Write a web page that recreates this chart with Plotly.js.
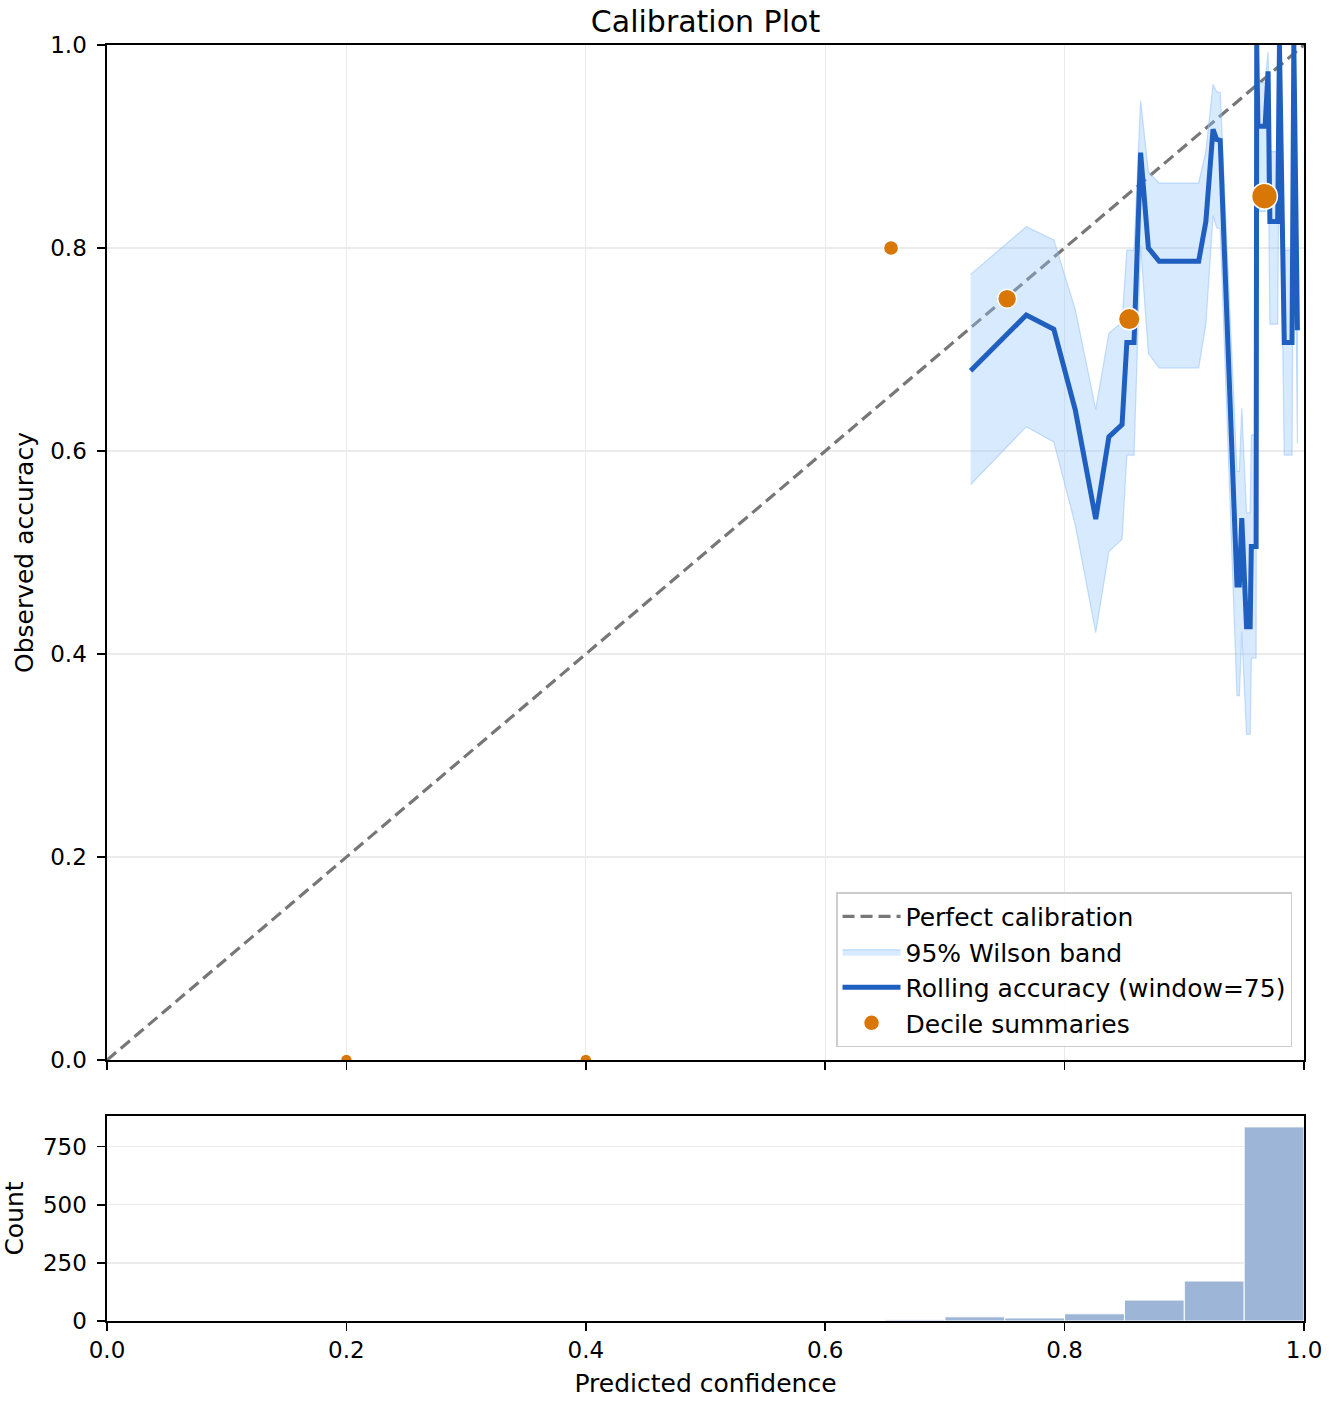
<!DOCTYPE html>
<html>
<head>
<meta charset="utf-8">
<script src="https://cdn.plot.ly/plotly-3.0.1.min.js"></script>
<style>
  body { margin: 0; background: #fff; }
  #myDiv { width: 1332px; height: 1404px; }
</style>
</head>
<body>
<div id="myDiv"></div>
<script>
// rolling accuracy (window=75)
var rollX = [0.7215, 0.768, 0.791, 0.809, 0.826, 0.837, 0.848, 0.852, 0.858, 0.8635,
             0.870, 0.879, 0.912, 0.918, 0.924, 0.927, 0.930, 0.944, 0.946, 0.948,
             0.952, 0.955, 0.956, 0.960, 0.9605, 0.9615, 0.9675, 0.970, 0.9715, 0.978,
             0.9795, 0.9835, 0.990, 0.9915, 0.9945];
var rollAcc = [0.679, 0.734, 0.720, 0.640, 0.533, 0.614, 0.626, 0.707, 0.707, 0.894,
               0.800, 0.787, 0.787, 0.826, 0.917, 0.907, 0.906, 0.468, 0.468, 0.534,
               0.427, 0.427, 0.506, 0.506, 1.000, 0.920, 0.920, 0.974, 0.826, 0.826,
               1.000, 0.707, 0.707, 1.000, 0.719];
var bandLow = [0.567, 0.624, 0.609, 0.527, 0.421, 0.501, 0.513, 0.596, 0.596, 0.803,
               0.696, 0.682, 0.682, 0.725, 0.832, 0.820, 0.819, 0.359, 0.359, 0.422,
               0.321, 0.321, 0.396, 0.396, 0.951, 0.836, 0.836, 0.909, 0.725, 0.725,
               0.951, 0.596, 0.596, 0.951, 0.608];
var bandHigh = [0.774, 0.821, 0.808, 0.739, 0.641, 0.716, 0.727, 0.798, 0.798, 0.945,
                0.875, 0.864, 0.864, 0.895, 0.961, 0.954, 0.953, 0.580, 0.580, 0.642,
                0.539, 0.539, 0.616, 0.616, 1.000, 0.963, 0.963, 0.993, 0.895, 0.895,
                1.000, 0.798, 0.798, 1.000, 0.808];

// decile summaries
var decileX = [0.200, 0.400, 0.655, 0.752, 0.854, 0.967];
var decileAcc = [0.000, 0.000, 0.800, 0.750, 0.730, 0.851];
var decileCount = [1, 1, 5, 32, 121, 1008];

// histogram of predicted confidence, bins of 0.05
var binStart = [0.65, 0.70, 0.75, 0.80, 0.85, 0.90, 0.95];
var binCount = [5, 18, 13, 31, 90, 172, 835];
var binWidth = 0.05;

var ticks01 = [0, 0.2, 0.4, 0.6, 0.8, 1.0];
var countTicks = [0, 250, 500, 750];

function Draw() {
  var font = 'DejaVu Sans, Liberation Sans, sans-serif';

  var decileSize = decileCount.map(function (n) { return 12 + 4.6 * Math.log10(n); });
  var binCenter = binStart.map(function (b) { return b + binWidth / 2; });

  // closed polygon for the band: upper edge forward, lower edge back
  var bandX = rollX.concat(rollX.slice().reverse());
  var bandY = bandHigh.concat(bandLow.slice().reverse());

  var diag = {
    x: [0, 1], y: [0, 1],
    name: 'Perfect calibration',
    type: 'scatter', mode: 'lines',
    line: { color: '#777777', width: 3.2, dash: '12px,6px' },
    xaxis: 'x', yaxis: 'y'
  };

  var band = {
    x: bandX, y: bandY,
    name: '95% Wilson band',
    type: 'scatter', mode: 'lines',
    fill: 'toself',
    fillcolor: 'rgba(147,197,253,0.36)',
    line: { color: 'rgba(150,195,250,0.55)', width: 1.2 },
    hoverinfo: 'skip',
    xaxis: 'x', yaxis: 'y'
  };

  var rolling = {
    x: rollX, y: rollAcc,
    name: 'Rolling accuracy (window=75)',
    type: 'scatter', mode: 'lines',
    line: { color: '#1f5fc0', width: 5 },
    xaxis: 'x', yaxis: 'y'
  };

  var deciles = {
    x: decileX, y: decileAcc,
    name: 'Decile summaries',
    type: 'scatter', mode: 'markers',
    marker: { color: '#d97706', opacity: 1, size: decileSize,
              line: { color: '#ffffff', width: 1.5 } },
    xaxis: 'x', yaxis: 'y'
  };

  var hist = {
    x: binCenter, y: binCount,
    width: binCount.map(function () { return binWidth; }),
    type: 'bar',
    showlegend: false,
    marker: { color: '#9db5d6', line: { color: '#ffffff', width: 1 } },
    xaxis: 'x2', yaxis: 'y2'
  };

  var axisBase = {
    showline: true, linecolor: '#000000', linewidth: 1.6, mirror: true,
    ticks: 'outside', ticklen: 8, tickwidth: 1.5, tickcolor: '#000000',
    ticklabelstandoff: 6,
    zeroline: false,
    gridcolor: '#ebebeb', gridwidth: 1.4,
    tickfont: { family: font, size: 23, color: '#000000' }
  };

  function ax(extra) {
    var o = JSON.parse(JSON.stringify(axisBase));
    for (var k in extra) o[k] = extra[k];
    return o;
  }

  var layout = {
    width: 1332,
    height: 1404,
    margin: { l: 107, r: 28, t: 45, b: 83, pad: 0 },
    paper_bgcolor: '#ffffff',
    plot_bgcolor: '#ffffff',
    font: { family: font, color: '#000000' },
    title: {
      text: 'Calibration Plot',
      font: { family: font, size: 30, color: '#000000' },
      x: 0.5, xref: 'paper', xanchor: 'center',
      y: 0.985, yref: 'container', yanchor: 'middle'
    },
    xaxis: ax({ domain: [0, 1], range: [0, 1], anchor: 'y', tickvals: ticks01,
                showticklabels: false, showgrid: true }),
    yaxis: ax({ domain: [0.2045, 1], range: [0, 1], anchor: 'x', tickvals: ticks01,
                tickformat: '.1f', showgrid: true,
                title: { text: 'Observed accuracy', font: { family: font, size: 25 }, standoff: 9 } }),
    xaxis2: ax({ domain: [0, 1], range: [0, 1], anchor: 'y2', tickvals: ticks01,
                 tickformat: '.1f', showgrid: false, ticklabelstandoff: 0,
                 title: { text: 'Predicted confidence', font: { family: font, size: 25 }, standoff: 12 } }),
    yaxis2: ax({ domain: [0, 0.1607], range: [0, 882], anchor: 'x2', tickvals: countTicks,
                 showgrid: true,
                 title: { text: 'Count', font: { family: font, size: 25 }, standoff: 12 } }),
    bargap: 0,
    legend: {
      x: 0.990, xanchor: 'right', xref: 'paper',
      y: 0.2147, yanchor: 'bottom', yref: 'paper',
      bgcolor: 'rgba(255,255,255,0.85)',
      bordercolor: '#cccccc', borderwidth: 1.5,
      font: { family: font, size: 25, color: '#000000' },
      itemwidth: 58,
      traceorder: 'normal'
    },
    showlegend: true
  };

  Plotly.newPlot('myDiv', [diag, band, rolling, deciles, hist], layout,
                 { displayModeBar: false, staticPlot: true });
}

Draw();
</script>
</body>
</html>
